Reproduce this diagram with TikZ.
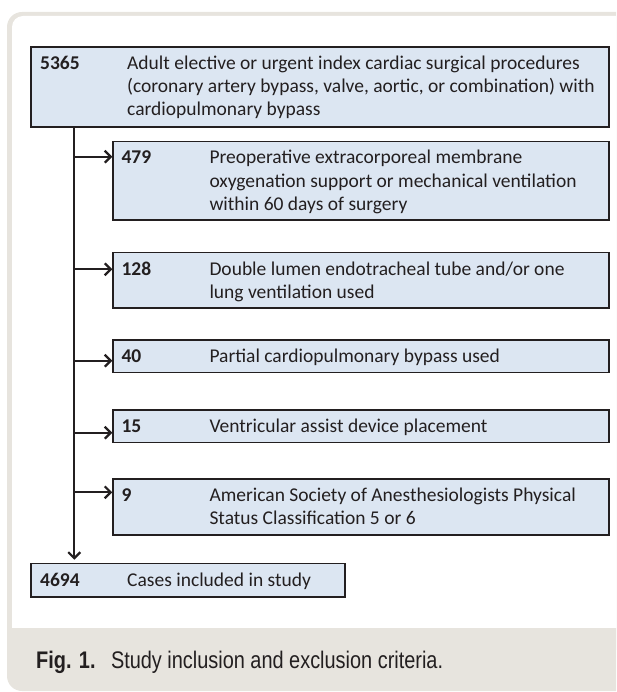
\documentclass[tikz,border=0pt]{standalone}
\usepackage{fontspec}
\setmainfont{Carlito}
\newfontfamily\capfont[FakeStretch=0.83]{Liberation Sans}
\usetikzlibrary{arrows.meta,calc}
\definecolor{boxfill}{HTML}{DCE6F2}
\definecolor{beige}{HTML}{E7E4DE}
\definecolor{linec}{HTML}{231F20}
\begin{document}
\begin{tikzpicture}[x=1pt,y=-1pt,
  box/.style={draw=linec, line width=1.6pt, fill=boxfill, anchor=north west, inner sep=0pt},
  num/.style={anchor=base west, inner sep=0pt, text=linec, font=\bfseries\fontsize{19.5}{23.3}\selectfont},
  desc/.style={anchor=base west, inner sep=0pt, text=linec, font=\fontsize{19.5}{23.3}\selectfont},
  arr/.style={draw=linec, line width=2pt, -{Straight Barb[length=6pt,width=12pt,line width=2.2pt]}},
  capt/.style={anchor=base west, inner sep=0pt, text=linec, font=\capfont\fontsize{24}{28}\selectfont}]
\useasboundingbox (0,0) rectangle (616,692);
\clip (0,0) rectangle (616,692);
% frame
\fill[beige, rounded corners=15pt] (7,12) rectangle (700,691);
\fill[white, rounded corners=11pt] (12,16) rectangle (700,645);
\fill[beige] (12,627.7) rectangle (700,650);
% boxes
\node[box, minimum width=578pt, minimum height=80pt] (top) at (30,46) {};
\node[box, minimum width=495.7pt, minimum height=78.6pt] (b1) at (112.3,140.7) {};
\node[box, minimum width=495.7pt, minimum height=55.6pt] (b2) at (112.3,251.7) {};
\node[box, minimum width=495.7pt, minimum height=32.4pt] (b3) at (112.3,339.3) {};
\node[box, minimum width=495.7pt, minimum height=32.4pt] (b4) at (112.3,409.3) {};
\node[box, minimum width=495.7pt, minimum height=55.7pt] (b5) at (112.3,478.3) {};
\node[box, minimum width=314pt, minimum height=33.3pt] (fin) at (30,562.7) {};
% texts
\node[num] (n0) at ($(top.north west)+(10,23.3)$) {5365};
\node[desc] (d0) at ($(top.north west)+(97,23.3)$) {\parbox[t]{480pt}{Adult elective or urgent index cardiac surgical procedures\\(coronary artery bypass, valve, aortic, or combination) with\\cardiopulmonary bypass}};
\node[num] (n1) at ($(b1.north west)+(9,23.3)$) {479};
\node[desc] (d1) at ($(b1.north west)+(97,23.3)$) {\parbox[t]{400pt}{Preoperative extracorporeal membrane\\oxygenation support or mechanical ventilation\\within 60 days of surgery}};
\node[num] (n2) at ($(b2.north west)+(9,23.3)$) {128};
\node[desc] (d2) at ($(b2.north west)+(97,23.3)$) {\parbox[t]{400pt}{Double lumen endotracheal tube and/or one\\lung ventilation used}};
\node[num] (n3) at ($(b3.north west)+(9,23.3)$) {40};
\node[desc] (d3) at ($(b3.north west)+(97,23.3)$) {Partial cardiopulmonary bypass used};
\node[num] (n4) at ($(b4.north west)+(9,23.3)$) {15};
\node[desc] (d4) at ($(b4.north west)+(97,23.3)$) {Ventricular assist device placement};
\node[num] (n5) at ($(b5.north west)+(9,23.3)$) {9};
\node[desc] (d5) at ($(b5.north west)+(97,23.3)$) {\parbox[t]{400pt}{American Society of Anesthesiologists Physical\\Status Classification 5 or 6}};
\node[num] (n6) at ($(fin.north west)+(10,23.3)$) {4694};
\node[desc] (d6) at ($(fin.north west)+(97,23.3)$) {Cases included in study};
% connectors
\coordinate (tx) at (74.3,0);
\coordinate (j1) at (74.3,156.7);
\coordinate (j2) at (74.3,269.3);
\coordinate (j3) at (74.3,360.7);
\coordinate (j4) at (74.3,432.7);
\coordinate (j5) at (74.3,492.3);
\draw[arr, shorten >=3pt] (top.south -| tx) -- (fin.north -| tx);
\draw[arr] (j1) -- (j1 -| b1.west);
\draw[arr] (j2) -- (j2 -| b2.west);
\draw[arr] (j3) -- (j3 -| b3.west);
\draw[arr] (j4) -- (j4 -| b4.west);
\draw[arr] (j5) -- (j5 -| b5.west);
% caption
\node[capt] (c1) at (36,668) {\bfseries Fig. 1.};
\node[capt] (c2) at (110.8,668) {Study inclusion and exclusion criteria.};
\end{tikzpicture}
\end{document}
